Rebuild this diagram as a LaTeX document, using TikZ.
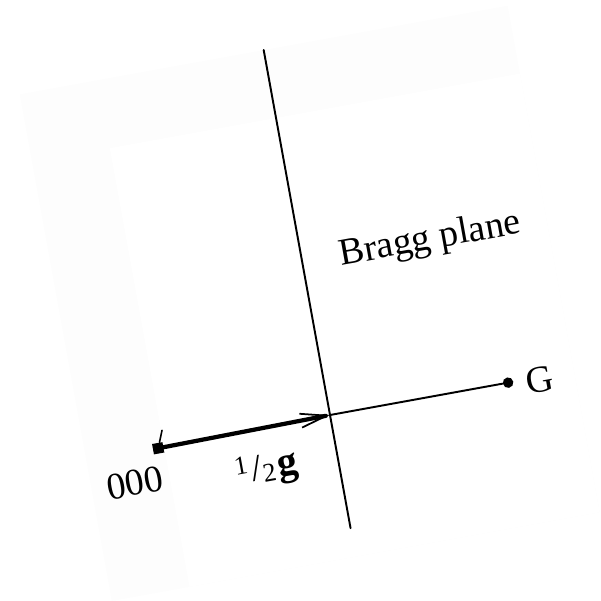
\documentclass[tikz,border=0pt]{standalone}
\usepackage{fontspec}
\setmainfont{Liberation Serif}
\usetikzlibrary{arrows.meta}
\definecolor{pagegray}{HTML}{FDFDFD}

\begin{document}
\begin{tikzpicture}[
    x=0.02cm, y=0.02cm,
    line cap=round,
    >={Straight Barb[length=15pt, width=8pt, line width=1pt]},
    dot/.style={circle, fill=black, inner sep=0pt, minimum size=6pt},
    lbl/.style={font=\fontsize{21.5}{26}\selectfont, inner sep=0pt}
]

\useasboundingbox (0,0) rectangle (601,600);

\begin{scope}[shift={(330,185)}, rotate=10.3, transform shape]

% Scanned page (faint)
\fill[pagegray] (-248,-144) rectangle (248,371);
\fill[white] (-169,-144) rectangle (248,302);

% Points and intersection
\node[dot, rectangle] (origin) at (-175,-2) {};
\node[dot] (gpoint) at (181,0) {};
\coordinate (mid) at (0,0);
\coordinate (planetop) at (0,371);
\coordinate (planebot) at (0,-115);
\coordinate (tickend) at (-168,15);

% Bragg plane
\draw[line width=1.1pt] (planetop) -- (planebot);

% Vector g and its half
\draw[line width=1.1pt] (mid) -- (gpoint);
\draw[line width=2.4pt, ->] (origin) -- (mid);
\draw[line width=0.9pt] (origin) -- (tickend);

% Text
\node[lbl] (lorigin) at (-204,-32) {000};
\node[lbl] (lg) at (213,-3) {G};
\node[lbl] (lplane) at (130,154) {Bragg plane};
\node[lbl] (lhalf) at (-72,-43) {\fontsize{15}{18}\selectfont\raisebox{0.7ex}{1}\kern2pt{\fontsize{21.5}{26}\selectfont/}\raisebox{-0.3ex}{2}\kern1.5pt{\fontsize{23}{26}\selectfont\textbf{g}}};

\end{scope}

\end{tikzpicture}
\end{document}
